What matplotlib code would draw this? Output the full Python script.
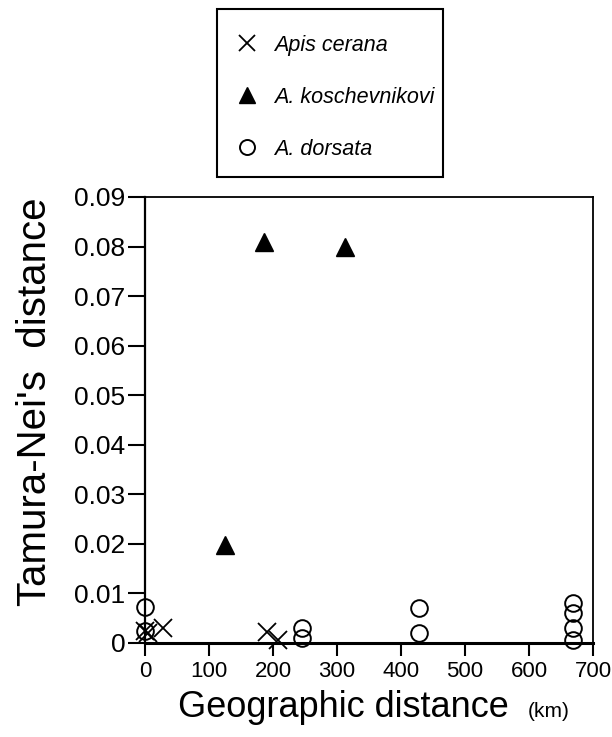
import matplotlib
matplotlib.use("Agg")
import matplotlib.pyplot as plt
from matplotlib.patches import Rectangle

plt.rcParams['font.family'] = ['Liberation Sans', 'DejaVu Sans']

# Apis cerana (x)
cerana_km = [0, 5, 28, 190, 208]
cerana_dist = [0.0025, 0.002, 0.003, 0.0022, 0.0006]

# A. koschevnikovi (filled triangles)
kosch_km = [125, 186, 312]
kosch_dist = [0.0198, 0.0809, 0.0799]

# A. dorsata (open circles)
dorsata_km = [0, 0, 245, 245, 428, 428, 669, 669, 669, 669]
dorsata_dist = [0.0072, 0.0024, 0.003, 0.001, 0.0071, 0.002, 0.0081, 0.0061, 0.003, 0.0006]

xticks = [0, 100, 200, 300, 400, 500, 600, 700]
yticks = [0, 0.01, 0.02, 0.03, 0.04, 0.05, 0.06, 0.07, 0.08, 0.09]
ytick_labels = ['0', '0.01', '0.02', '0.03', '0.04', '0.05', '0.06', '0.07', '0.08', '0.09']

W, H = 612, 737
fig = plt.figure(figsize=(W / 100, H / 100), dpi=100)
ax = fig.add_axes([145 / W, 1 - 643 / H, 448 / W, 446 / H])

h1, = ax.plot(cerana_km, cerana_dist, linestyle='none', marker='x', markersize=13,
              markeredgewidth=1.3, color='black', label='Apis cerana', clip_on=False)
h2, = ax.plot(kosch_km, kosch_dist, linestyle='none', marker='^', markersize=13,
              color='black', label='A. koschevnikovi', clip_on=False)
h3, = ax.plot(dorsata_km, dorsata_dist, linestyle='none', marker='o', markersize=12,
              markerfacecolor='none', markeredgecolor='black', markeredgewidth=1.4,
              label='A. dorsata', clip_on=False)

ax.set_xlim(0, 700)
ax.set_ylim(0, 0.09)
ax.set_xticks(xticks)
ax.set_xticklabels([str(t) for t in xticks], fontsize=16)
ax.set_yticks(yticks)
ax.set_yticklabels(ytick_labels, fontsize=19)
ax.tick_params(axis='x', direction='out', length=9, width=1.5, pad=4)
ax.tick_params(axis='y', direction='out', length=12, width=1.5, pad=2)

ax.spines['bottom'].set_linewidth(2.2)
ax.spines['left'].set_linewidth(1.6)
ax.spines['top'].set_linewidth(1.3)
ax.spines['right'].set_linewidth(1.3)

# axis titles
fig.text(343 / W, 1 - 717 / H, 'Geographic distance', fontsize=26, ha='center', va='baseline')
fig.text(549 / W, 1 - 717 / H, '(km)', fontsize=15, ha='center', va='baseline')
fig.text(35 / W, 1 - 402 / H, "Tamura-Nei's  distance", fontsize=29, rotation=90,
         ha='center', va='center')

# legend: entries without frame, box drawn separately
leg = fig.legend(handles=[h1, h2, h3], loc='upper left',
                 bbox_to_anchor=(215 / W, 1 - 13 / H),
                 prop={'style': 'italic', 'size': 15.5}, frameon=False,
                 borderpad=1.0, labelspacing=1.45, markerscale=0.9,
                 handlelength=1.0, handletextpad=0.75, borderaxespad=0)
fig.patches.append(Rectangle((217 / W, 1 - 177 / H), 226 / W, 168 / H,
                             transform=fig.transFigure, fill=False,
                             edgecolor='black', linewidth=1.5))

fig.savefig('out.png', dpi=100)
